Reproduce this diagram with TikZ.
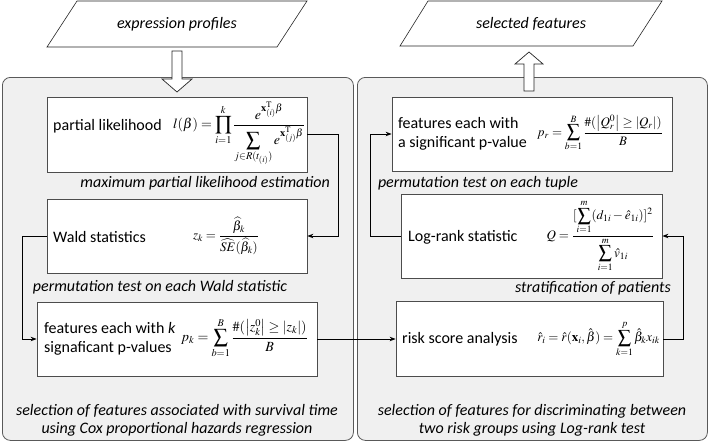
\documentclass[tikz,border=0pt]{standalone}
\usepackage{amsmath}
\usepackage{mathptmx}
\usepackage[no-math]{fontspec}
\newfontfamily\carl{Carlito}
\usetikzlibrary{arrows.meta,shadows}
\begin{document}
\begin{tikzpicture}[x=1pt,y=-1pt,
  font=\carl\fontsize{16}{18.5}\selectfont,
  panel/.style={draw=black!65, fill=black!6, rounded corners=8pt, line width=0.8pt, inner sep=0pt},
  box/.style={draw=black!70, fill=white, line width=0.8pt, inner sep=0pt,
    drop shadow={shadow xshift=0.8pt, shadow yshift=-0.8pt, opacity=0.35, fill=black!60}},
  io/.style={draw=black!85, fill=white, line width=0.6pt},
  lab/.style={font=\carl\fontsize{16}{18}\selectfont\itshape, inner sep=0pt},
  txt/.style={inner sep=0pt, align=left},
  fml/.style={inner sep=0pt, font=\fontsize{14}{16}\selectfont},
  conn/.style={draw=black, line width=0.9pt, -{Stealth[length=6pt,width=4.5pt]}},
  hollow/.style={draw=black!85, fill=white, line width=0.7pt, line join=miter}]
\useasboundingbox (0,0) rectangle (709,442);
\fill[white] (0,0) rectangle (709,442);

% panels
\node[panel, anchor=north west, minimum width=351pt, minimum height=363pt] (lp) at (2,77) {};
\node[panel, anchor=north west, minimum width=350pt, minimum height=363pt] (rp) at (357,77) {};

% input / output
\draw[io] (77,1) -- (307,1) -- (277,47) -- (47,47) -- cycle;
\node[lab] (ep) at (177,24) {expression profiles};
\draw[io] (428,1) -- (662,1) -- (633,46) -- (400,46) -- cycle;
\node[lab] (sf) at (531,24) {selected features};

% hollow arrows
\draw[hollow] (172,51) -- (182,51) -- (182,79) -- (192,79) -- (177,92) -- (162,79) -- (172,79) -- cycle;
\draw[hollow] (524,91) -- (534,91) -- (534,64) -- (543,64) -- (529,52) -- (515,64) -- (524,64) -- cycle;

% left panel boxes
\node[box, minimum width=260pt, minimum height=75pt] (pl) at (177,134.5) {};
\node[txt, anchor=west] (plt) at (53,126) {partial likelihood};
\node[fml, anchor=east] (plf) at (305,134) {$\displaystyle l(\beta)=\prod_{i=1}^{k}\frac{e^{\mathbf{x}_{(i)}^{\mathrm{T}}\boldsymbol{\beta}}}{\displaystyle\sum_{j\in R(t_{(i)})} e^{\mathbf{x}_{(j)}^{\mathrm{T}}\boldsymbol{\beta}}}$};
\node[lab, anchor=east] (mple) at (330,183) {maximum partial likelihood estimation};

\node[box, minimum width=260pt, minimum height=74pt] (wald) at (177,236) {};
\node[txt, anchor=west] (waldt) at (53,237) {Wald statistics};
\node[fml, font=\fontsize{13}{15}\selectfont] (waldf) at (226,236) {$\displaystyle z_k=\frac{\widehat{\beta}_k}{\widehat{SE}(\widehat{\beta}_k)}$};
\node[lab] (ptw) at (160,287) {permutation test on each Wald statistic};

\node[box, minimum width=280pt, minimum height=74pt] (feat) at (177,339) {};
\node[txt, anchor=west] (featt) at (44,339) {features each with \textit{k}\\signaficant p-values};
\node[fml, anchor=east] (featf) at (308,338) {$\displaystyle p_k=\sum_{b=1}^{B}\frac{\#(\left|z_k^0\right|\ge\left|z_k\right|)}{B}$};

\node[lab] (lb1) at (177,411) {selection of features associated with survival time};
\node[lab] (lb2) at (177,429) {using Cox proportional hazards regression};

% right panel boxes
\node[box, minimum width=280pt, minimum height=74pt] (sig) at (532,134) {};
\node[txt, anchor=west] (sigt) at (398,134) {features each with\\a significant p-value};
\node[fml, anchor=east, font=\fontsize{13}{15}\selectfont] (sigf) at (663,133) {$\displaystyle p_r=\sum_{b=1}^{B}\frac{\#(\left|Q_r^0\right|\ge\left|Q_r\right|)}{B}$};
\node[lab] (ptt) at (478,183) {permutation test on each tuple};

\node[box, minimum width=261pt, minimum height=84pt] (lr) at (531.5,236) {};
\node[txt, anchor=west] (lrt) at (408,237) {Log-rank statistic};
\node[fml, anchor=east, font=\fontsize{13}{15}\selectfont] (lrf) at (654,236) {$\displaystyle Q=\frac{[\displaystyle\sum_{i=1}^{m}(d_{1i}-\hat{e}_{1i})]^2}{\displaystyle\sum_{i=1}^{m}\hat{v}_{1i}}$};
\node[lab, anchor=east] (strat) at (671,288) {stratification of patients};

\node[box, minimum width=267pt, minimum height=75pt] (risk) at (529.5,339) {};
\node[txt, anchor=west] (riskt) at (402,339) {risk score analysis};
\node[fml, anchor=east, font=\fontsize{13}{15}\selectfont] (riskf) at (660,339) {$\displaystyle \hat{r}_i=\hat{r}(\mathbf{x}_i,\hat{\boldsymbol{\beta}})=\sum_{k=1}^{p}\hat{\beta}_k x_{ik}$};

\node[lab] (rb1) at (532,411) {selection of features for discriminating between};
\node[lab] (rb2) at (532,429) {two risk groups using Log-rank test};

% connectors
\draw[conn] (pl.east) -- ++(31,0) |- (wald.east);
\draw[conn] (wald.west) -- ++(-24,0) |- (feat.west);
\draw[conn] (feat.east) -- (feat.east -| risk.west);
\draw[conn] (risk.east) -- ++(20,0) |- (lr.east);
\draw[conn] (lr.west) -- ++(-30,0) |- (sig.west);
\end{tikzpicture}
\end{document}
